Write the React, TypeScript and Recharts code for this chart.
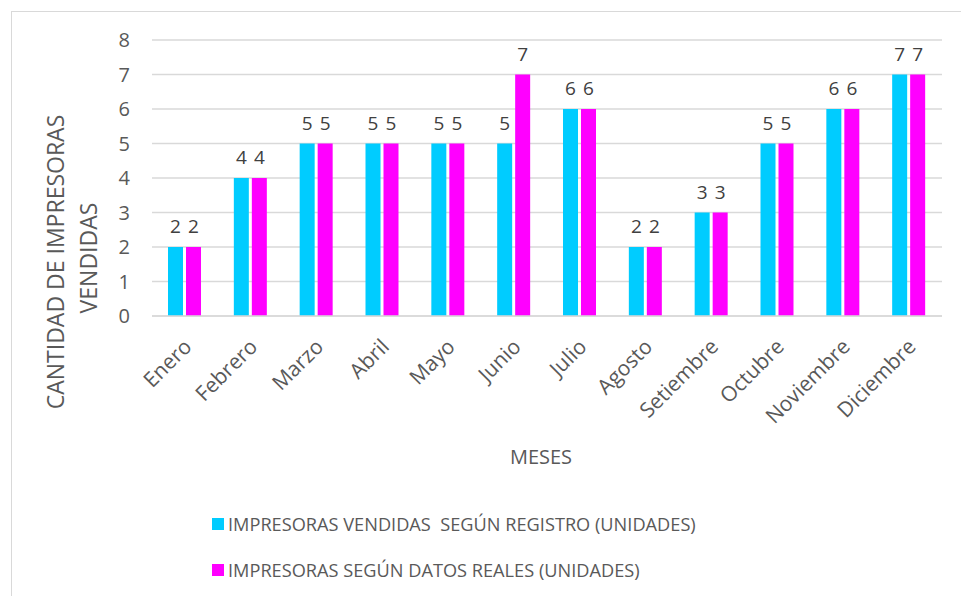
import React from 'react';
import { BarChart, Bar, XAxis, YAxis, CartesianGrid, LabelList } from 'recharts';

const months = ['Enero', 'Febrero', 'Marzo', 'Abril', 'Mayo', 'Junio', 'Julio', 'Agosto', 'Setiembre', 'Octubre', 'Noviembre', 'Diciembre'];
const segunRegistro = [2, 4, 5, 5, 5, 5, 6, 2, 3, 5, 6, 7];
const segunReales = [2, 4, 5, 5, 5, 7, 6, 2, 3, 5, 6, 7];
const yTicks = [0, 1, 2, 3, 4, 5, 6, 7, 8];

const serieNames = [
  'IMPRESORAS VENDIDAS  SEGÚN REGISTRO (UNIDADES)',
  'IMPRESORAS SEGÚN DATOS REALES (UNIDADES)',
];

const CYAN = '#00CCFF';
const MAGENTA = '#FF00FF';
const FONT = '"Open Sans", sans-serif';

const data = months.map((m, i) => ({
  mes: m,
  registro: segunRegistro[i],
  reales: segunReales[i],
}));

// rotated month labels, like the excel chart
const MonthTick = (props: any) => {
  const { x, y, payload } = props;
  const tx = x + 8;
  const ty = y + 24;
  return (
    <text
      x={tx}
      y={ty}
      textAnchor="end"
      transform={`rotate(-45 ${tx} ${ty})`}
      fill="#595959"
      fontSize={21}
      fontFamily={FONT}
    >
      {payload.value}
    </text>
  );
};

const YTitle = () => (
  <g fill="#595959" fontSize={23} fontFamily={FONT}>
    <text x={64} y={262} textAnchor="middle" transform="rotate(-90 64 262)">
      CANTIDAD DE IMPRESORAS
    </text>
    <text x={97} y={258} textAnchor="middle" transform="rotate(-90 97 258)">
      VENDIDAS
    </text>
  </g>
);

export default function App() {
  return (
    <div style={{ position: 'absolute', left: 0, top: 0, width: 961, height: 596, overflow: 'hidden', background: '#fff' }}>
      <div
        style={{
          position: 'absolute',
          left: 11,
          top: 11,
          width: 1000,
          height: 1000,
          border: '1px solid #d9d9d9',
        }}
      />
      <div style={{ position: 'absolute', left: 0, top: 0 }}>
        <BarChart
          width={961}
          height={596}
          data={data}
          margin={{ top: 40, right: 19, left: 0, bottom: 130 }}
          barSize={15}
          barGap={3}
        >
          <CartesianGrid vertical={false} stroke="#d9d9d9" strokeWidth={1.3} />
          <XAxis
            dataKey="mes"
            interval={0}
            height={150}
            tickLine={false}
            axisLine={{ stroke: '#d9d9d9', strokeWidth: 1.3 }}
            tick={<MonthTick />}
            label={{ value: 'MESES', position: 'insideBottom', offset: 2, dx: -6, fill: '#595959', fontSize: 20, fontFamily: FONT }}
          />
          <YAxis
            width={152}
            domain={[0, 8]}
            ticks={yTicks}
            axisLine={false}
            tickLine={false}
            tickSize={0}
            tickMargin={22}
            tick={{ fill: '#595959', fontSize: 20, fontFamily: FONT }}
            label={{ content: () => <YTitle /> }}
          />
          <Bar dataKey="registro" name={serieNames[0]} fill={CYAN} isAnimationActive={false}>
            <LabelList dataKey="registro" position="top" offset={14} fill="#404040" fontSize={19} fontFamily={FONT} />
          </Bar>
          <Bar dataKey="reales" name={serieNames[1]} fill={MAGENTA} isAnimationActive={false}>
            <LabelList dataKey="reales" position="top" offset={14} fill="#404040" fontSize={19} fontFamily={FONT} />
          </Bar>
        </BarChart>
      </div>
      <div style={{ position: 'absolute', left: 212, top: 509, fontFamily: FONT, fontSize: 18.2, color: '#595959' }}>
        {serieNames.map((n, i) => (
          <div key={n} style={{ display: 'flex', alignItems: 'center', height: 30, marginBottom: i === 0 ? 16 : 0 }}>
            <span style={{ width: 12, height: 12, background: i === 0 ? CYAN : MAGENTA, marginRight: 4, display: 'inline-block' }} />
            <span style={{ whiteSpace: 'pre' }}>{n}</span>
          </div>
        ))}
      </div>
    </div>
  );
}
